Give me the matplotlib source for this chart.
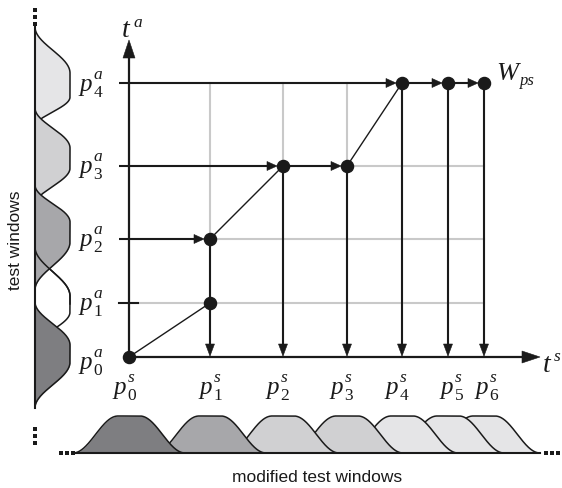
import numpy as np
import matplotlib
matplotlib.use('Agg')
import matplotlib.pyplot as plt
from matplotlib.patches import Polygon

plt.rcParams['font.family'] = ['Liberation Sans', 'DejaVu Sans']

# ---------------- data ----------------
# positions of the sample points along t^s (x) and t^a (y), figure pixel units
ts_pos = [129, 210, 283, 347, 402, 448, 484]
ta_pos = [357, 303, 239, 166, 83]
# warping path W_ps as (s index, a index)
path_s = [0, 1, 1, 2, 3, 4, 5, 6]
path_a = [0, 1, 2, 3, 3, 4, 4, 4]
# levels that receive a horizontal arrow from the t^a axis
axis_arrow_levels = [2, 3, 4]
s_subs = ['0', '1', '2', '3', '4', '5', '6']
a_subs = ['0', '1', '2', '3', '4']
# test windows on t^a: (start, plateau start, plateau end, end)
a_windows = [(302, 345, 362, 408),
             (247, 296, 312, 348),
             (185, 222, 242, 290),
             (108, 148, 168, 205),
             (27, 73, 97, 127)]
a_win_colors = ['#7e7e81', '#ffffff', '#a7a7aa', '#d0d0d2', '#e5e5e7']

# label layout
s_label_x = [125, 211, 278, 342, 397, 452, 487]
s_label_base = 394
a_label_x = 91
a_label_dy = [8, 3, 3, 3, 4]

# ---------------- figure ----------------
W, H = 562, 488
fig = plt.figure(figsize=(W / 100, H / 100), dpi=100)
ax = fig.add_axes([0, 0, 1, 1])
ax.set_xlim(0, W)
ax.set_ylim(H, 0)
ax.axis('off')

K = '#1a1a1a'
GRID = '#c9c9c9'
SERIF = 'Liberation Serif'
x0, y0 = ts_pos[0], ta_pos[0]


def arrow(xa, ya, xb, yb, hl, hw, lw=1.5, z=5):
    d = np.array([xb - xa, yb - ya], float)
    L = np.hypot(*d)
    u = d / L
    n = np.array([-u[1], u[0]])
    tip = np.array([xb, yb], float)
    base = tip - u * hl
    ax.plot([xa, base[0] + u[0]], [ya, base[1] + u[1]], color=K, lw=lw,
            solid_capstyle='butt', zorder=z)
    tri = [tip, base + n * hw / 2, base - n * hw / 2]
    ax.add_patch(Polygon(tri, closed=True, fc=K, ec=K, lw=0.4, zorder=z))


def window(t, a, b, c, d):
    t = np.asarray(t, float)
    w = np.zeros_like(t)
    m = (t >= a) & (t < b)
    w[m] = (1 - np.cos(np.pi * (t[m] - a) / (b - a))) / 2
    w[(t >= b) & (t <= c)] = 1
    m = (t > c) & (t <= d)
    w[m] = (1 + np.cos(np.pi * (t[m] - c) / (d - c))) / 2
    return w


def plabel(cx, base, sup, sub, size=18, ssize=12.5):
    xl = cx - 12
    ax.text(xl, base, 'p', fontsize=size, family=SERIF, style='italic',
            ha='left', va='baseline', color=K)
    ax.text(xl + 14.5, base - 12, sup, fontsize=ssize, family=SERIF, style='italic',
            ha='left', va='baseline', color=K)
    ax.text(xl + 14.5, base + 6, sub, fontsize=ssize, family=SERIF,
            ha='left', va='baseline', color=K)


# grid
for j in range(1, len(ta_pos)):
    ax.plot([x0, ts_pos[-1]], [ta_pos[j]] * 2, color=GRID, lw=1.5, zorder=1)
for i in range(1, len(ts_pos)):
    ax.plot([ts_pos[i]] * 2, [ta_pos[-1], y0], color=GRID, lw=1.5, zorder=1)

# axes
tick_x = 119
arrow(x0, y0, x0, 40, 18, 12, lw=1.6, z=6)
arrow(x0, y0, 540, y0, 18, 12, lw=1.6, z=6)
ax.plot([tick_x, 138], [ta_pos[1]] * 2, color=K, lw=1.5, zorder=6)

# arrows from t^a axis to first point of the level
for lvl in axis_arrow_levels:
    first = path_s[path_a.index(lvl)]
    arrow(tick_x, ta_pos[lvl], ts_pos[first] - 6, ta_pos[lvl], 10, 9)

# path steps
for k in range(1, len(path_s)):
    sa, aa = path_s[k - 1], path_a[k - 1]
    sb, ab = path_s[k], path_a[k]
    if sb > sa and ab > aa:
        ax.plot([ts_pos[sa], ts_pos[sb]], [ta_pos[aa], ta_pos[ab]],
                color=K, lw=1.0, zorder=5)
    elif sb > sa:
        arrow(ts_pos[sa], ta_pos[aa], ts_pos[sb] - 6, ta_pos[ab], 10, 9)

# vertical arrows down to t^s axis
for i in range(1, len(ts_pos)):
    top = max(a for s, a in zip(path_s, path_a) if s == i)
    arrow(ts_pos[i], ta_pos[top], ts_pos[i], y0 - 1, 12, 9)

# points
ax.plot([ts_pos[s] for s in path_s], [ta_pos[a] for a in path_a], 'o',
        color=K, ms=8.7, zorder=8)

# labels
for i, sub in enumerate(s_subs):
    plabel(s_label_x[i], s_label_base, 's', sub)
for j, sub in enumerate(a_subs):
    plabel(a_label_x, ta_pos[j] + a_label_dy[j] + 4, 'a', sub)
ax.text(122, 37, 't', fontsize=20, family=SERIF, style='italic', ha='left',
        va='baseline', color=K)
ax.text(133, 27, 'a', fontsize=12.5, family=SERIF, style='italic', ha='left',
        va='baseline', color=K)
ax.text(543, 372, 't', fontsize=20, family=SERIF, style='italic', ha='left',
        va='baseline', color=K)
ax.text(554, 361, 's', fontsize=12.5, family=SERIF, style='italic', ha='left',
        va='baseline', color=K)
ax.text(496, 80, 'W', fontsize=19, family=SERIF, style='italic', ha='left',
        va='baseline', color=K)
ax.text(520, 85, 'ps', fontsize=12, family=SERIF, style='italic', ha='left',
        va='baseline', color=K)

# ---- left test windows ----
bx, amp = 35, 35
ys = np.linspace(20, 415, 1200)
order = [4, 3, 1, 2, 0]
for zi, j in enumerate(order):
    a, b, c, d = a_windows[j]
    m = (ys >= a) & (ys <= d)
    xx = bx + amp * window(ys[m], a, b, c, d)
    ax.fill_betweenx(ys[m], bx, xx, color=a_win_colors[j], lw=0, zorder=2 + zi * 0.1)
    ax.plot(xx, ys[m], color=K, lw=1.1, zorder=2.05 + zi * 0.1)
# outline of white window above its neighbour's fill
a, b, c, d = a_windows[1]
m = (ys >= a) & (ys <= (b + c) / 2)
ax.plot(bx + amp * window(ys[m], a, b, c, d), ys[m], color=K, lw=1.1, zorder=2.35)
ax.plot([bx, bx], [a_windows[-1][0], a_windows[0][3]], color=K, lw=1.5, zorder=3)
for yy in [10, 17, 24, 429, 436, 443]:
    ax.plot(bx, yy, 's', color=K, ms=2.4, mew=0, zorder=3)

# ---- bottom modified windows ----
by, bamp = 453, 37
xs = np.linspace(60, 545, 1500)
for i in reversed(range(len(ts_pos))):
    c = ts_pos[i]
    a, b, cc, d = c - 56, c - 11, c + 11, c + 56
    lvl = max(aa for s, aa in zip(path_s, path_a) if s == i)
    m = (xs >= a) & (xs <= d)
    yy = by - bamp * window(xs[m], a, b, cc, d)
    z = 2 + (len(ts_pos) - i) * 0.1
    ax.fill_between(xs[m], by, yy, color=a_win_colors[lvl], lw=0, zorder=z)
    ax.plot(xs[m], yy, color=K, lw=1.1, zorder=z + 0.05)
ax.plot([ts_pos[0] - 56, ts_pos[-1] + 56], [by, by], color=K, lw=1.5, zorder=3)
for xx in [61, 67, 73, 546, 552, 558]:
    ax.plot(xx, by, 's', color=K, ms=2.4, mew=0, zorder=3)

ax.text(317, 477, 'modified test windows', fontsize=12.5, ha='center', va='center', color=K)
ax.text(16, 240, 'test windows', fontsize=12.5, rotation=90, ha='center', va='center', color=K)

fig.savefig('out.png', dpi=100)
